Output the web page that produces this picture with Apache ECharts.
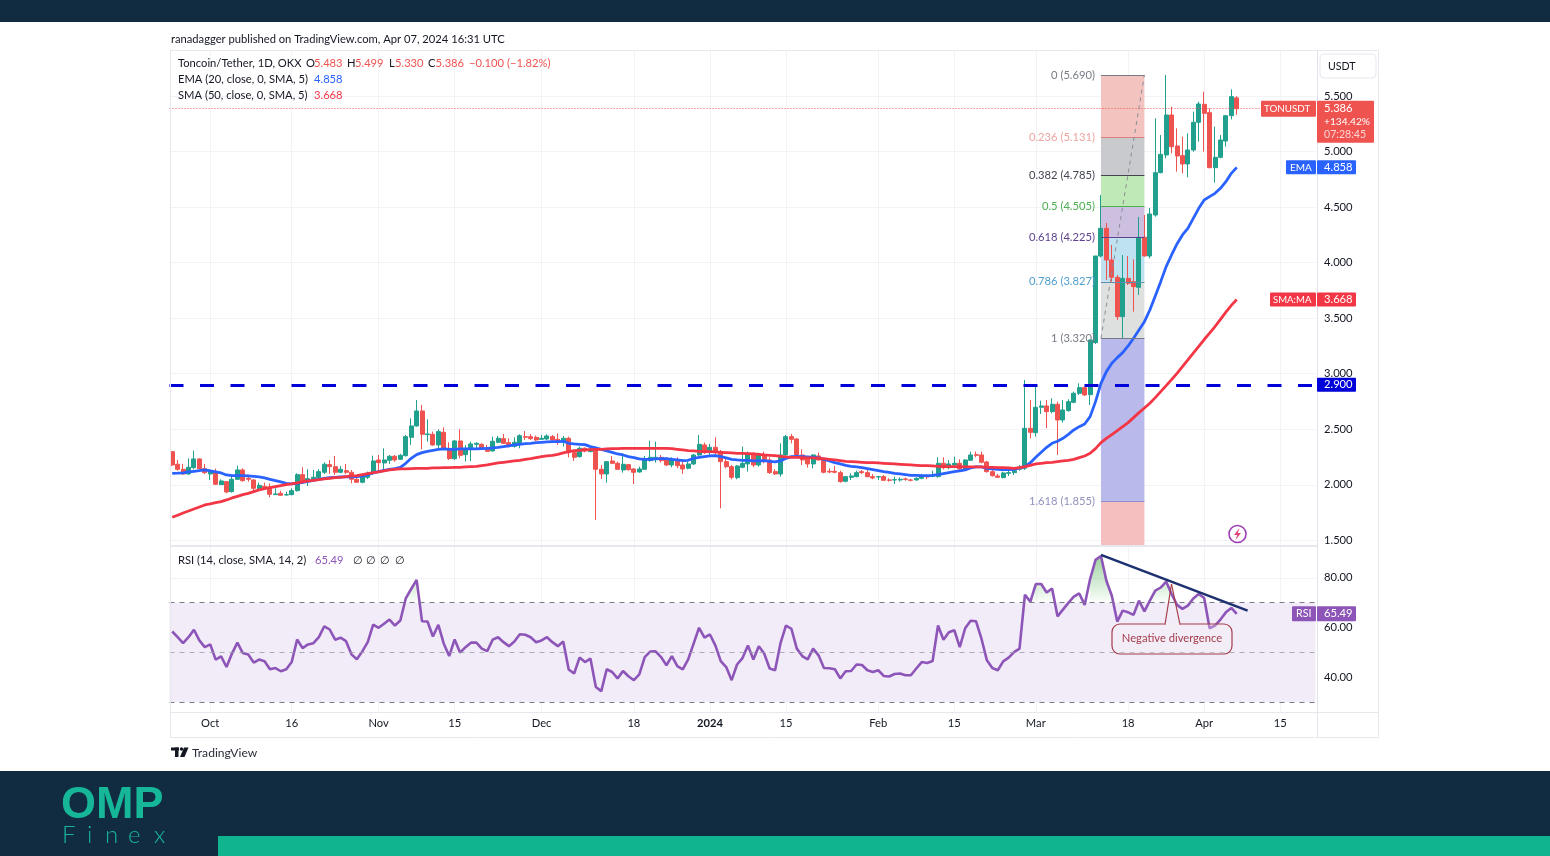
<!DOCTYPE html>
<html><head><meta charset="utf-8">
<style>html,body{margin:0;padding:0;background:#fff}#c{width:1550px;height:856px}</style>
<script src="https://cdn.jsdelivr.net/npm/echarts@6/dist/echarts.min.js"></script>
</head><body><div id="c"></div>
<script>
const opens=[2.299,2.185,2.140,2.098,2.155,2.233,2.146,2.098,2.119,2.002,2.029,1.939,2.050,2.134,2.059,2.044,1.966,1.987,1.978,1.912,
1.924,1.909,1.912,1.948,2.092,2.026,2.053,2.065,2.113,2.182,2.164,2.113,2.128,2.113,2.050,2.023,2.068,2.116,2.224,2.197,
2.221,2.257,2.230,2.263,2.428,2.530,2.665,2.452,2.455,2.359,2.473,2.329,2.236,2.395,2.272,2.326,2.365,2.365,2.329,2.305,
2.383,2.416,2.380,2.347,2.374,2.434,2.434,2.428,2.410,2.413,2.434,2.410,2.386,2.419,2.290,2.254,2.329,2.299,2.314,2.140,
2.098,2.215,2.194,2.134,2.182,2.143,2.116,2.140,2.218,2.230,2.248,2.224,2.179,2.224,2.179,2.149,2.188,2.269,2.359,2.305,
2.338,2.284,2.209,2.164,2.065,2.158,2.188,2.284,2.179,2.269,2.224,2.119,2.098,2.269,2.434,2.413,2.269,2.230,2.188,2.260,
2.230,2.122,2.122,2.110,2.032,2.068,2.074,2.119,2.110,2.074,2.071,2.074,2.044,2.044,2.044,2.053,2.044,2.044,2.059,2.077,
2.077,2.074,2.194,2.155,2.179,2.194,2.143,2.221,2.272,2.269,2.206,2.119,2.080,2.065,2.104,2.110,2.140,2.149,2.509,2.470,
2.698,2.710,2.659,2.725,2.584,2.668,2.743,2.824,2.875,2.812,3.280,4.060,4.309,4.024,3.868,3.514,3.859,3.829,3.778,4.228,
4.060,4.429,4.810,4.969,5.329,5.050,4.963,4.888,5.014,5.263,5.425,5.350,4.855,4.948,5.095,5.323,5.483];
const highs=[2.299,2.224,2.188,2.239,2.308,2.239,2.188,2.140,2.146,2.050,2.035,2.089,2.173,2.149,2.089,2.050,2.020,2.020,2.014,1.969,
1.948,1.939,1.969,2.104,2.158,2.140,2.134,2.140,2.203,2.224,2.260,2.170,2.188,2.134,2.074,2.089,2.119,2.263,2.269,2.329,
2.269,2.269,2.278,2.449,2.599,2.764,2.719,2.590,2.479,2.500,2.518,2.383,2.404,2.500,2.359,2.389,2.383,2.374,2.359,2.434,
2.440,2.458,2.419,2.428,2.455,2.485,2.458,2.443,2.449,2.455,2.449,2.464,2.440,2.434,2.314,2.344,2.338,2.344,2.314,2.179,
2.215,2.260,2.209,2.284,2.188,2.149,2.164,2.260,2.398,2.389,2.269,2.248,2.248,2.248,2.230,2.209,2.278,2.449,2.380,2.368,
2.428,2.314,2.239,2.179,2.179,2.344,2.299,2.290,2.290,2.299,2.248,2.140,2.374,2.449,2.458,2.419,2.320,2.254,2.275,2.290,
2.239,2.149,2.170,2.128,2.080,2.104,2.128,2.134,2.134,2.098,2.080,2.089,2.059,2.074,2.068,2.065,2.053,2.068,2.098,2.089,
2.128,2.248,2.248,2.224,2.254,2.230,2.230,2.299,2.299,2.299,2.215,2.134,2.098,2.119,2.134,2.149,2.179,2.944,2.764,2.899,
2.758,2.764,2.779,2.749,2.764,2.770,2.839,2.914,2.884,3.304,4.060,4.609,4.357,4.159,3.889,4.069,4.060,4.030,4.411,4.429,
4.492,5.299,5.149,5.689,5.404,5.209,5.134,5.164,5.359,5.449,5.539,5.389,5.224,5.149,5.323,5.560,5.499];
const lows=[2.170,2.128,2.089,2.089,2.140,2.140,2.098,2.044,1.999,1.999,1.924,1.930,2.044,2.029,2.029,1.939,1.954,1.954,1.888,1.909,
1.903,1.903,1.906,1.939,2.008,1.990,2.029,2.050,2.098,2.098,2.089,2.104,2.098,2.014,2.020,2.014,2.053,2.089,2.128,2.140,
2.188,2.209,2.224,2.254,2.359,2.524,2.320,2.389,2.353,2.329,2.320,2.224,2.224,2.239,2.209,2.215,2.329,2.314,2.296,2.299,
2.374,2.368,2.338,2.335,2.329,2.404,2.404,2.395,2.404,2.404,2.395,2.359,2.344,2.248,2.215,2.245,2.293,2.293,1.684,2.053,
2.020,2.188,2.134,2.110,2.128,2.008,2.110,2.134,2.209,2.200,2.200,2.170,2.158,2.149,2.098,2.140,2.179,2.260,2.278,2.269,
2.254,1.789,2.149,2.050,2.050,2.149,2.119,2.158,2.164,2.194,2.098,2.089,2.074,2.260,2.374,2.254,2.179,2.155,2.149,2.218,
2.104,2.104,2.104,2.020,2.023,2.044,2.068,2.098,2.068,2.050,2.044,2.038,2.029,2.008,2.029,2.038,2.032,2.038,2.050,2.050,
2.068,2.065,2.140,2.140,2.149,2.134,2.134,2.215,2.248,2.194,2.110,2.074,2.062,2.059,2.080,2.089,2.128,2.134,2.419,2.434,
2.638,2.509,2.644,2.269,2.560,2.659,2.734,2.809,2.800,2.719,3.268,4.048,3.844,3.829,3.484,3.319,3.799,3.559,3.709,4.054,
4.039,4.414,4.804,4.939,4.984,4.819,4.804,4.768,4.999,5.089,4.999,4.849,4.720,4.939,5.044,5.290,5.330];
const closes=[2.179,2.140,2.098,2.158,2.233,2.146,2.110,2.128,2.005,2.035,1.936,2.050,2.134,2.038,2.050,1.969,1.996,1.975,1.915,1.918,
1.906,1.912,1.948,2.092,2.026,2.056,2.068,2.119,2.185,2.164,2.113,2.140,2.113,2.050,2.023,2.074,2.104,2.215,2.200,2.224,
2.257,2.224,2.266,2.434,2.530,2.665,2.455,2.458,2.359,2.479,2.329,2.236,2.395,2.266,2.329,2.368,2.374,2.320,2.302,2.392,
2.419,2.374,2.350,2.383,2.443,2.428,2.416,2.404,2.419,2.440,2.404,2.395,2.419,2.290,2.248,2.329,2.305,2.323,2.140,2.098,
2.209,2.194,2.140,2.185,2.137,2.113,2.143,2.224,2.248,2.248,2.218,2.179,2.230,2.173,2.143,2.188,2.269,2.365,2.290,2.338,
2.299,2.209,2.164,2.068,2.170,2.194,2.278,2.179,2.269,2.218,2.110,2.098,2.269,2.434,2.410,2.269,2.224,2.188,2.269,2.224,
2.113,2.116,2.113,2.029,2.074,2.080,2.110,2.110,2.074,2.062,2.074,2.041,2.041,2.047,2.050,2.050,2.041,2.059,2.080,2.071,
2.086,2.194,2.155,2.188,2.194,2.143,2.224,2.269,2.266,2.203,2.119,2.083,2.068,2.107,2.110,2.128,2.158,2.509,2.473,2.698,
2.710,2.659,2.725,2.584,2.674,2.749,2.824,2.875,2.809,3.304,4.060,4.309,4.024,3.868,3.514,3.859,3.814,3.784,4.228,4.060,
4.438,4.810,4.975,5.329,5.044,4.960,4.888,5.014,5.263,5.428,5.344,4.855,4.948,5.104,5.323,5.494,5.386];
const emaValues=[2.104,2.105,2.107,2.116,2.122,2.128,2.134,2.125,2.116,2.107,2.089,2.083,2.083,2.083,2.080,2.077,2.071,2.062,2.050,2.038,
2.026,2.014,2.008,2.014,2.023,2.032,2.041,2.050,2.059,2.065,2.068,2.071,2.071,2.071,2.074,2.080,2.092,2.107,2.119,2.131,
2.140,2.146,2.158,2.194,2.239,2.272,2.290,2.302,2.311,2.320,2.323,2.320,2.320,2.323,2.323,2.323,2.323,2.326,2.329,2.332,
2.338,2.344,2.350,2.359,2.365,2.371,2.374,2.380,2.383,2.386,2.389,2.389,2.392,2.374,2.368,2.365,2.362,2.344,2.332,2.320,
2.305,2.293,2.278,2.269,2.254,2.245,2.233,2.230,2.230,2.233,2.236,2.236,2.230,2.224,2.218,2.221,2.239,2.248,2.254,2.260,
2.263,2.254,2.242,2.230,2.224,2.221,2.221,2.215,2.215,2.218,2.212,2.206,2.215,2.239,2.254,2.257,2.254,2.251,2.248,2.242,
2.230,2.215,2.200,2.188,2.176,2.167,2.161,2.155,2.146,2.137,2.128,2.119,2.113,2.104,2.098,2.092,2.086,2.086,2.083,2.083,
2.086,2.092,2.101,2.110,2.119,2.125,2.134,2.152,2.161,2.161,2.149,2.143,2.140,2.137,2.137,2.140,2.152,2.164,2.200,2.248,
2.293,2.338,2.374,2.392,2.419,2.455,2.494,2.524,2.548,2.614,2.749,2.914,3.019,3.094,3.145,3.190,3.250,3.319,3.394,3.469,
3.574,3.700,3.829,3.964,4.069,4.168,4.249,4.309,4.399,4.489,4.564,4.594,4.624,4.669,4.729,4.804,4.858];
const smaValues=[1.708,1.726,1.747,1.765,1.783,1.801,1.819,1.828,1.840,1.849,1.864,1.882,1.897,1.912,1.924,1.939,1.954,1.966,1.975,1.984,
1.993,2.002,2.008,2.017,2.026,2.035,2.041,2.047,2.053,2.059,2.065,2.068,2.074,2.080,2.083,2.092,2.101,2.110,2.116,2.125,
2.134,2.140,2.143,2.143,2.146,2.149,2.149,2.149,2.152,2.152,2.155,2.155,2.158,2.158,2.161,2.164,2.167,2.173,2.179,2.188,
2.197,2.203,2.209,2.215,2.221,2.230,2.236,2.245,2.254,2.260,2.266,2.275,2.287,2.299,2.308,2.311,2.314,2.317,2.320,2.320,
2.323,2.326,2.326,2.329,2.329,2.329,2.329,2.329,2.329,2.329,2.329,2.329,2.326,2.320,2.314,2.308,2.305,2.302,2.299,2.299,
2.296,2.293,2.290,2.287,2.284,2.284,2.281,2.278,2.275,2.269,2.266,2.263,2.257,2.251,2.248,2.248,2.245,2.242,2.242,2.239,
2.236,2.230,2.224,2.218,2.212,2.209,2.206,2.203,2.200,2.200,2.197,2.194,2.191,2.188,2.185,2.182,2.179,2.176,2.173,2.173,
2.170,2.167,2.164,2.164,2.164,2.164,2.161,2.161,2.161,2.161,2.158,2.158,2.155,2.155,2.152,2.149,2.155,2.164,2.176,2.188,
2.194,2.200,2.203,2.209,2.215,2.221,2.230,2.245,2.260,2.284,2.326,2.380,2.419,2.452,2.488,2.524,2.560,2.605,2.650,2.692,
2.735,2.785,2.839,2.893,2.947,3.004,3.064,3.124,3.186,3.246,3.308,3.365,3.425,3.490,3.555,3.615,3.668];
const rsiValues=[58.4,56.1,53.7,56.1,59.1,54.8,52.1,53.2,47.1,48.4,44.1,49.5,53.9,49.7,49.1,45.9,47.1,46.4,43.2,43.7,
42.4,43.2,46.1,55.2,51.7,53.2,53.7,56.1,60.5,59.2,55.1,55.9,54.5,49.2,47.2,50.4,54.1,61.2,59.9,61.5,
63.2,60.8,62.8,71.7,75.5,79.2,62.5,62.4,56.4,61.1,53.5,48.5,55.2,49.9,52.1,53.9,53.9,51.5,50.5,55.1,
56.1,54.1,52.5,54.4,57.3,57.1,56.1,54.1,54.8,56.1,54.1,52.5,54.4,43.1,41.5,47.9,46.1,47.5,36.1,34.4,
43.2,42.1,39.5,42.5,40.4,38.8,41.1,48.1,50.3,50.4,48.1,44.8,48.5,44.5,43.2,47.2,53.5,59.9,55.9,57.2,
52.8,46.5,44.1,38.8,45.1,47.7,52.8,47.1,52.5,49.5,43.5,42.8,53.7,60.8,59.5,51.5,48.5,47.2,51.5,48.8,
43.7,43.6,43.2,39.5,42.4,42.5,45.1,44.9,42.8,42.1,42.8,40.5,40.3,41.3,41.5,40.8,40.8,43.5,46.1,45.7,
46.5,60.8,55.1,58.1,58.9,52.1,59.7,62.7,62.5,55.5,46.8,43.7,42.8,46.4,47.9,50.1,51.5,73.2,70.4,77.5,
77.5,74.1,75.7,64.5,67.2,69.9,72.4,73.7,69.1,79.5,87.2,88.8,78.8,72.8,62.4,66.8,66.1,65.1,70.8,66.5,
70.8,74.8,76.1,78.5,73.5,69.1,67.5,68.8,71.7,73.5,71.9,59.7,60.8,63.2,66.1,67.9,65.49];
const tickDates=['2023-10-01','2023-10-16','2023-11-01','2023-11-15','2023-12-01','2023-12-18','2024-01-01','2024-01-15','2024-02-01','2024-02-15','2024-03-01','2024-03-18','2024-04-01','2024-04-15'];
const tickTexts=['Oct','16','Nov','15','Dec','18','2024','15','Feb','15','Mar','18','Apr','15'];
const priceTicks=[1.5,2,2.5,3,3.5,4,4.5,5,5.5];
const rsiTicks=[40,60,80];
const fibRatios=['0','0.236','0.382','0.5','0.618','0.786','1','1.618'];
const fibPrices=[5.690,5.131,4.785,4.505,4.225,3.827,3.320,1.855];
const fibTextColors=['#787b86','#eda5a2','#434651','#4caf50','#5e4390','#4f9fcf','#787b86','#8f93bd'];
const fibLineColors=['#787b86','#d9807d','#434651','#4caf50','#5e4390','#5b8fb0','#787b86','#8f8fd0'];
const fibZoneColors=['#f3c3c0','#c9cacd','#bfeab7','#cdbfe0','#bfe2f1','#dedfdf','#b9b9ec','#f5bfbf'];
const levelSupport=2.9, lastPrice=5.386;

const categories=[];
for(let i=0;i<211;i++){categories.push(new Date(Date.UTC(2023,8,24+i)).toISOString().slice(0,10));}
const candleData=closes.map((c,i)=>[opens[i],c,lows[i],highs[i]]);
const rsiOver=rsiValues.map(v=>v>70?v:null);
const FONT='Lato,"Noto Sans",sans-serif';
const FS=11.2;
const isTick=(i,v)=>tickDates.indexOf(v)>=0;
const P0={min:1.4586,max:5.914}, R0={min:26,max:92.4};
const chart=echarts.init(document.getElementById('c'));

function axisLabelX(show){return {show,interval:isTick,margin:6,color:'#131722',fontSize:FS,fontFamily:FONT,
  formatter:v=>{const t=tickTexts[tickDates.indexOf(v)]||'';return t==='2024'?'{b|2024}':t;},rich:{b:{fontWeight:'bold',fontSize:FS,fontFamily:FONT,color:'#131722'}}};}
const gridLine={show:true,interval:isTick,alignWithLabel:true,lineStyle:{color:'#f2f3f7',width:1}};
const hLine={show:true,lineStyle:{color:'#f2f3f7',width:1}};

const zoneData=fibPrices.map((p,i)=>[
  {xAxis:categories[171],yAxis:p,itemStyle:{color:fibZoneColors[i],opacity:1}},
  {xAxis:categories[179],yAxis:i<fibPrices.length-1?fibPrices[i+1]:P0.min}]);
const fibLines=fibPrices.map((p,i)=>[
  {xAxis:categories[171],yAxis:p,lineStyle:{color:fibLineColors[i],width:1,type:'solid'},symbol:'none',
   label:{show:true,position:'start',distance:6,formatter:fibRatios[i]+' ('+p.toFixed(3)+')',color:fibTextColors[i],fontSize:FS,fontFamily:FONT}},
  {xAxis:categories[179],yAxis:p}]);

const option={
  animation:false,backgroundColor:'#ffffff',
  grid:[{left:169.5,top:50,width:1146,height:495,containLabel:false},{left:169.5,top:547,width:1146,height:165,containLabel:false}],
  xAxis:[
   {type:'category',gridIndex:0,data:categories,boundaryGap:true,axisLine:{show:false},axisTick:{show:false},axisLabel:axisLabelX(false),splitLine:gridLine},
   {type:'category',gridIndex:1,data:categories,boundaryGap:true,axisLine:{show:false},axisTick:{show:false},axisLabel:axisLabelX(true),splitLine:gridLine}
  ],
  yAxis:[
   {type:'value',gridIndex:0,position:'right',min:P0.min,max:P0.max,axisLine:{show:false},
    axisTick:{show:false,customValues:priceTicks},splitLine:hLine,
    axisLabel:{customValues:priceTicks,margin:8.5,color:'#131722',fontSize:FS,fontFamily:FONT,formatter:v=>v.toFixed(3)}},
   {type:'value',gridIndex:1,position:'right',min:R0.min,max:R0.max,axisLine:{show:false},
    axisTick:{show:false,customValues:rsiTicks},splitLine:hLine,
    axisLabel:{customValues:rsiTicks,margin:8.5,color:'#131722',fontSize:FS,fontFamily:FONT,formatter:v=>v.toFixed(2)}}
  ],
  series:[
   {type:'candlestick',name:'TONUSDT',xAxisIndex:0,yAxisIndex:0,data:candleData,barWidth:4.5,z:2,
    itemStyle:{color:'#22a08e',color0:'#ef5350',borderColor:'#22a08e',borderColor0:'#ef5350',borderWidth:1},
    markArea:{silent:true,z:1,data:zoneData},
    markLine:{silent:true,symbol:'none',z:5,label:{show:false},data:[
      ...fibLines,
      [{xAxis:categories[171],yAxis:fibPrices[6],lineStyle:{color:'#8a8d96',width:1,type:[4,4]}},{xAxis:categories[179],yAxis:fibPrices[0]}],
      {yAxis:lastPrice,lineStyle:{color:'#ef5350',width:1,type:[1,2]}},
      {yAxis:levelSupport,lineStyle:{color:'#0000d8',width:3,type:[14,16.5]}}
    ]}},
   {type:'line',name:'EMA',xAxisIndex:0,yAxisIndex:0,data:emaValues,showSymbol:false,z:3,lineStyle:{color:'#2962ff',width:2.8}},
   {type:'line',name:'SMA',xAxisIndex:0,yAxisIndex:0,data:smaValues,showSymbol:false,z:3,lineStyle:{color:'#f23645',width:2.8}},
   {type:'line',name:'RSI over',xAxisIndex:1,yAxisIndex:1,data:rsiOver,showSymbol:false,z:2,connectNulls:false,
    lineStyle:{width:0,opacity:0},
    areaStyle:{origin:70,opacity:1,color:new echarts.graphic.LinearGradient(0,0,0,1,[{offset:0,color:'rgba(76,175,80,0.55)'},{offset:1,color:'rgba(76,175,80,0.02)'}])}},
   {type:'line',name:'RSI',xAxisIndex:1,yAxisIndex:1,data:rsiValues,showSymbol:false,z:3,lineStyle:{color:'#8e55b8',width:2.6},
    markArea:{silent:true,z:1,data:[[{yAxis:30,itemStyle:{color:'#f1ecf8',opacity:1}},{yAxis:70}]]},
    markLine:{silent:true,symbol:'none',z:4,label:{show:false},data:[
      {yAxis:70,lineStyle:{color:'#787b86',width:1,type:[5,5]}},
      {yAxis:50,lineStyle:{color:'#9a9ca5',width:1,type:[5,5],opacity:.8}},
      {yAxis:30,lineStyle:{color:'#787b86',width:1,type:[5,5]}},
      [{xAxis:categories[171],yAxis:89.2,lineStyle:{color:'#1c2f6e',width:2.5,type:'solid'}},{xAxis:categories[198],yAxis:66.8}]
    ]}}
  ]
};
chart.setOption(option);

const py=p=>chart.convertToPixel({yAxisIndex:0},p);
const ry=r=>chart.convertToPixel({yAxisIndex:1},r);
const Z=20;
const txt=(x,y,text,fill,size,extra)=>Object.assign({type:'text',x,y,z:Z,silent:true,style:Object.assign({text,fill,font:(size||FS)+'px '+FONT,textAlign:'left',textVerticalAlign:'middle'},extra||{})});
const box=(x,y,w,h,fill,r)=>({type:'rect',z:Z,silent:true,shape:{x,y,width:w,height:h,r:r||0},style:{fill}});
const line=(x1,y1,x2,y2,c,w)=>({type:'line',z:Z,silent:true,shape:{x1,y1,x2,y2},style:{stroke:c,lineWidth:w||1}});
const RED='#ef5350',REDT='#f23645',BLUE='#2962ff',DK='#131722';
const headerParts=[[178,'Toncoin/Tether, 1D, OKX',DK],[306,'O',DK],[314,'5.483',RED],[347,'H',DK],[355,'5.499',RED],[389,'L',DK],[395,'5.330',RED],[428,'C',DK],[435.5,'5.386',RED],[469,'\u22120.100 (\u22121.82%)',RED]];
const rsiHeader=[[178,'RSI (14, close, SMA, 14, 2)',DK],[315,'65.49','#8e55b8'],[353,'\u2205',DK],[366,'\u2205',DK],[380,'\u2205',DK],[395,'\u2205',DK]];
const finex=[[62,'F'],[87,'i'],[105,'n'],[128,'e'],[154,'x']];
const tagY=py(lastPrice),eY=py(4.858),sY=py(3.668),bY=py(levelSupport),rY=ry(65.49);
const els=[
 box(0,0,1550,22,'#112b40'),
 box(0,771,1550,85,'#112b40'),
 box(218,836,1332,20,'#10b48f'),
 {type:'rect',z:Z,silent:true,shape:{x:170.5,y:50.5,width:1208,height:687},style:{fill:'none',stroke:'#e6e8ee',lineWidth:1}},
 line(170,546,1317,546,'#e6e8ee',2),
 line(170,712.5,1379,712.5,'#e6e8ee',1),
 line(1317.5,50,1317.5,737,'#e0e3eb',1),
 txt(171,39,'ranadagger published on TradingView.com, Apr 07, 2024 16:31 UTC',DK),
 ...headerParts.map(p=>txt(p[0],63.5,p[1],p[2])),
 txt(178,79.5,'EMA (20, close, 0, SMA, 5)',DK), txt(314,79.5,'4.858',BLUE),
 txt(178,95.5,'SMA (50, close, 0, SMA, 5)',DK), txt(314,95.5,'3.668',REDT),
 ...rsiHeader.map(p=>txt(p[0],560.5,p[1],p[2])),
 {type:'rect',z:Z,silent:true,shape:{x:1320,y:54,width:56,height:24,r:4},style:{fill:'#fff',stroke:'#e6e8ee',lineWidth:1}},
 txt(1328,66.5,'USDT',DK,10.6),
 box(1261,tagY-8,55,16,RED,1), txt(1264,tagY,'TONUSDT','#fff',9.8),
 box(1317,tagY-8,57,42,RED,1), txt(1324,tagY,'5.386','#fff'), txt(1324,tagY+13,'+134.42%','#fff',10.2), txt(1324,tagY+26,'07:28:45','#fbd5d4',10.6),
 box(1286,eY-7,30,14,BLUE,1), txt(1290,eY,'EMA','#fff',10),
 box(1317,eY-7,39,14,BLUE,1), txt(1324,eY,'4.858','#fff'),
 box(1270,sY-7,46,14,REDT,1), txt(1273,sY,'SMA:MA','#fff',9.6),
 box(1317,sY-7,39,14,REDT,1), txt(1324,sY,'3.668','#fff'),
 box(1317,bY-7,39,14,'#0000d8',1), txt(1324,bY,'2.900','#fff'),
 box(1292,rY-7.5,24,15,'#8e55b8',1), txt(1296,rY,'RSI','#fff',10.6),
 box(1317,rY-7.5,39,15,'#8e55b8',1), txt(1324,rY,'65.49','#fff'),
 // callout
 {type:'rect',z:Z,silent:true,shape:{x:1112,y:624,width:120,height:30,r:8},style:{fill:'rgba(250,240,244,0.3)',stroke:'#a53c4a',lineWidth:1.2}},
 line(1165,624.5,1171.5,584,'#a53c4a',1.2),
 line(1180,624.5,1171.5,584,'#a53c4a',1.2),
 line(1165.8,624,1179.2,624,'#f4eef7',2),
 txt(1172,638.5,'Negative divergence','#a53c4a',FS,{textAlign:'center'}),
 // lightning badge
 {type:'circle',z:Z,silent:true,shape:{cx:1237.5,cy:534,r:8.5},style:{fill:'#fff',stroke:'#9c3db5',lineWidth:1.6}},
 {type:'polygon',z:Z,silent:true,shape:{points:[[1239.5,528],[1234,535],[1237.2,535],[1235.5,540],[1241,533],[1237.8,533]]},style:{fill:'#e0457b'}},
 // TradingView mark
 box(171,747.5,8,3,'#131722'), box(175,747.5,3.5,9.5,'#131722'),
 {type:'circle',z:Z,silent:true,shape:{cx:181.5,cy:749,r:1.7},style:{fill:'#131722'}},
 {type:'polygon',z:Z,silent:true,shape:{points:[[184,747.5],[188.5,747.5],[184.5,757],[180,757]]},style:{fill:'#131722'}},
 txt(192,753,'TradingView','#2a2e39',12.1),
 // OMP Finex
 {type:'text',z:Z,silent:true,x:61,y:805.5,style:{text:'OMP',fill:'#16b698',font:'bold 45px "Liberation Sans",sans-serif',textAlign:'left',textVerticalAlign:'middle'}},
 ...finex.map(f=>({type:'text',z:Z,silent:true,x:f[0],y:835,style:{text:f[1],fill:'#16b698',font:'300 24px Lato,sans-serif',textAlign:'left',textVerticalAlign:'middle'}}))
];
chart.setOption({graphic:{elements:els}});
</script></body></html>
